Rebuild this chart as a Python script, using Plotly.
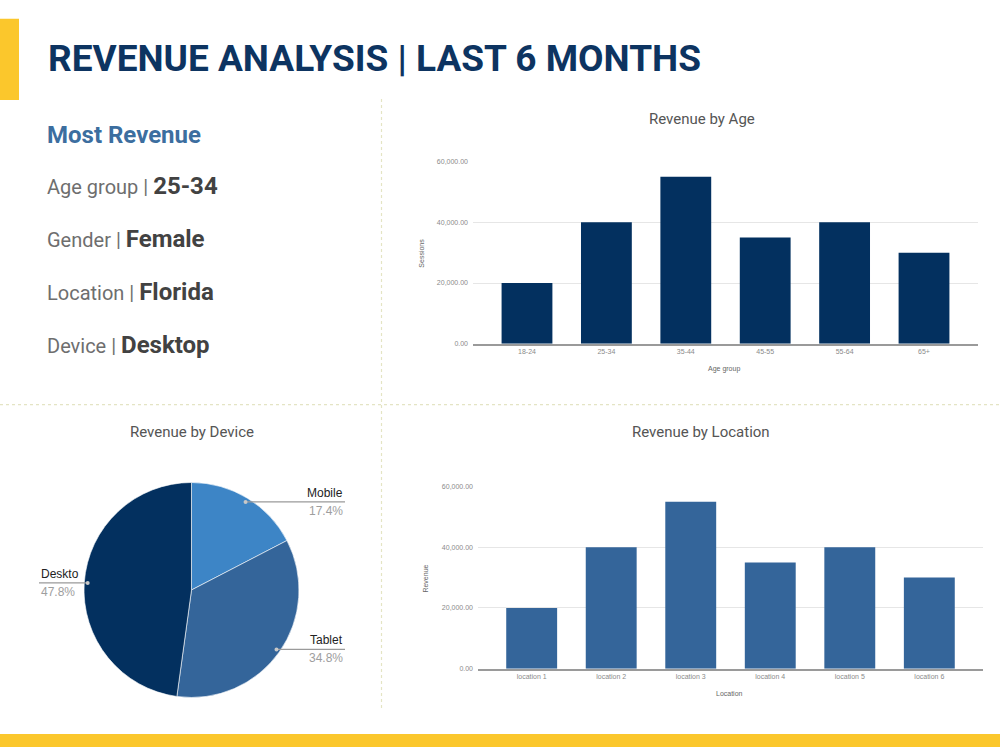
import math
import plotly.graph_objects as go

# ---------------- data ----------------
age_groups = ["18-24", "25-34", "35-44", "45-55", "55-64", "65+"]
age_revenue = [20000, 40000, 55000, 35000, 40000, 30000]

locations = ["location 1", "location 2", "location 3", "location 4", "location 5", "location 6"]
location_revenue = [20000, 40000, 55000, 35000, 40000, 30000]

devices = ["Mobile", "Tablet", "Deskto"]
device_revenue = [4, 8, 11]

summary_labels = ["Age group", "Gender", "Location", "Device"]
summary_values = ["25-34", "Female", "Florida", "Desktop"]

y_ticks = [0, 20000, 40000, 60000]

# ---------------- helpers ----------------
W, H = 1000, 750


def px(x):
    return x / W


def py(y):
    return 1 - y / H


NAVY = "#03305f"
MID = "#34659a"
LIGHT = "#3d85c6"
YELLOW = "#fbc72c"
TICK_FONT = dict(family="Liberation Sans, Arial", size=7, color="#8a8a8a")

fig = go.Figure()

# ---------------- bar charts ----------------
fig.add_trace(go.Bar(x=age_groups, y=age_revenue, marker=dict(color=NAVY, line=dict(width=0)),
                     width=0.64, xaxis="x", yaxis="y", showlegend=False, hoverinfo="x+y"))
fig.add_trace(go.Bar(x=locations, y=location_revenue, marker=dict(color=MID, line=dict(width=0)),
                     width=0.64, xaxis="x2", yaxis="y2", showlegend=False, hoverinfo="x+y"))

# ---------------- pie ----------------
pie_x0, pie_x1, pie_y0, pie_y1 = 82, 301, 483, 700
fig.add_trace(go.Pie(labels=devices, values=device_revenue, sort=False, direction="clockwise",
                     rotation=0, marker=dict(colors=[LIGHT, MID, NAVY], line=dict(color="white", width=0.6)),
                     textinfo="none", showlegend=False, hole=0,
                     domain=dict(x=[px(pie_x0), px(pie_x1)], y=[py(pie_y1), py(pie_y0)])))

axis_common = dict(showline=True, linecolor="#9a9a9a", linewidth=1.5, ticks="", tickfont=TICK_FONT,
                   fixedrange=True, zeroline=False, showgrid=False)
yaxis_common = dict(range=[0, 60000], tickvals=y_ticks, tickformat=",.2f", showgrid=True,
                    gridcolor="#e6e6e6", gridwidth=1, showline=False, zeroline=False, ticks="",
                    tickfont=TICK_FONT, fixedrange=True, ticklabelstandoff=4)

fig.update_layout(
    width=W, height=H, margin=dict(l=0, r=0, t=0, b=0),
    paper_bgcolor="white", plot_bgcolor="white",
    font=dict(family="Roboto, Arial", color="#555"),
    bargap=0.36,
    xaxis=dict(domain=[px(473), px(978)], range=[-0.68, 5.68], anchor="y", **axis_common),
    yaxis=dict(domain=[py(343), py(159)], anchor="x", **yaxis_common),
    xaxis2=dict(domain=[px(478), px(983)], range=[-0.675, 5.675], anchor="y2", **axis_common),
    yaxis2=dict(domain=[py(671), py(487)], anchor="x2", **yaxis_common),
)

shapes = []
ann = []

# yellow accents
shapes.append(dict(type="rect", xref="paper", yref="paper", x0=0, x1=px(19), y0=py(97), y1=py(15),
                   fillcolor=YELLOW, line=dict(width=0), layer="below"))
shapes.append(dict(type="rect", xref="paper", yref="paper", x0=0, x1=1, y0=0, y1=py(737),
                   fillcolor=YELLOW, line=dict(width=0), layer="below"))
# dotted dividers
shapes.append(dict(type="line", xref="paper", yref="paper", x0=px(381.5), x1=px(381.5), y0=py(96), y1=py(713),
                   line=dict(color="#e4e4c4", width=1.2, dash="dot"), layer="below"))
shapes.append(dict(type="line", xref="paper", yref="paper", x0=0, x1=1, y0=py(404.5), y1=py(404.5),
                   line=dict(color="#e4e4c4", width=1.2, dash="dot"), layer="below"))

# title
ann.append(dict(text="<b>REVENUE ANALYSIS | LAST 6 MONTHS</b>", x=px(46), y=py(55), xref="paper", yref="paper",
                xanchor="left", yanchor="middle", showarrow=False,
                font=dict(family="Roboto", size=37, color="#0d3461")))

# summary panel
ann.append(dict(text="<b>Most Revenue</b>", x=px(45), y=py(132), xref="paper", yref="paper",
                xanchor="left", yanchor="middle", showarrow=False,
                font=dict(family="Roboto", size=24, color="#3c6e9f")))
for i, (lab, val) in enumerate(zip(summary_labels, summary_values)):
    yc = 184 + i * 53.3
    ann.append(dict(text=f"{lab} | <span style='font-size:24px;color:#424242'><b>{val}</b></span>",
                    x=px(45), y=py(yc), xref="paper", yref="paper", xanchor="left", yanchor="middle",
                    showarrow=False, font=dict(family="Roboto", size=20, color="#6e6e6e")))

# chart titles
for txt, x, y in [("Revenue by Age", 702, 116), ("Revenue by Device", 192, 432), ("Revenue by Location", 701, 432)]:
    ann.append(dict(text=txt, x=px(x), y=py(y), xref="paper", yref="paper", xanchor="center", yanchor="middle",
                    showarrow=False, font=dict(family="Roboto", size=15, color="#555555")))

# axis titles
small = dict(family="Liberation Sans, Arial", size=7, color="#666")
ann.append(dict(text="Sessions", x=px(422), y=py(252), xref="paper", yref="paper", textangle=-90,
                showarrow=False, xanchor="center", yanchor="middle", font=small))
ann.append(dict(text="Age group", x=px(724), y=py(368), xref="paper", yref="paper",
                showarrow=False, xanchor="center", yanchor="middle", font=small))
ann.append(dict(text="Revenue", x=px(426), y=py(580), xref="paper", yref="paper", textangle=-90,
                showarrow=False, xanchor="center", yanchor="middle", font=small))
ann.append(dict(text="Location", x=px(729), y=py(696), xref="paper", yref="paper",
                showarrow=False, xanchor="center", yanchor="middle", font=small))

# pie leader labels, computed from the slice mid-angles
cx, cy = (pie_x0 + pie_x1) / 2, (pie_y0 + pie_y1) / 2
r = (pie_x1 - pie_x0) / 2 * 0.95
total = sum(device_revenue)
cum = 0
for name, v in zip(devices, device_revenue):
    mid = (cum + v / 2) / total * 2 * math.pi
    cum += v
    dx, dy = cx + r * math.sin(mid), cy - r * math.cos(mid)
    pct = f"{v / total * 100:.1f}%"
    if dx >= cx:
        lx0, lx1, tx, anchor = dx, 345, 345, "right"
    else:
        lx0, lx1, tx, anchor = 39, dx, 39, "left"
    shapes.append(dict(type="line", xref="paper", yref="paper", x0=px(lx0), x1=px(lx1), y0=py(dy), y1=py(dy),
                       line=dict(color="#9a9a9a", width=1.2)))
    shapes.append(dict(type="circle", xref="paper", yref="paper", x0=px(dx - 2), x1=px(dx + 2),
                       y0=py(dy + 2), y1=py(dy - 2), fillcolor="#c8c8c8", line=dict(width=0)))
    ann.append(dict(text=name, x=px(tx), y=py(dy - 9), xref="paper", yref="paper", xanchor=anchor,
                    yanchor="middle", showarrow=False,
                    font=dict(family="Liberation Sans, Arial", size=12, color="#222")))
    ann.append(dict(text=pct, x=px(tx), y=py(dy + 9), xref="paper", yref="paper", xanchor=anchor,
                    yanchor="middle", showarrow=False,
                    font=dict(family="Liberation Sans, Arial", size=12, color="#9e9e9e")))

fig.update_layout(shapes=shapes, annotations=ann)
fig.write_html("out.html")
